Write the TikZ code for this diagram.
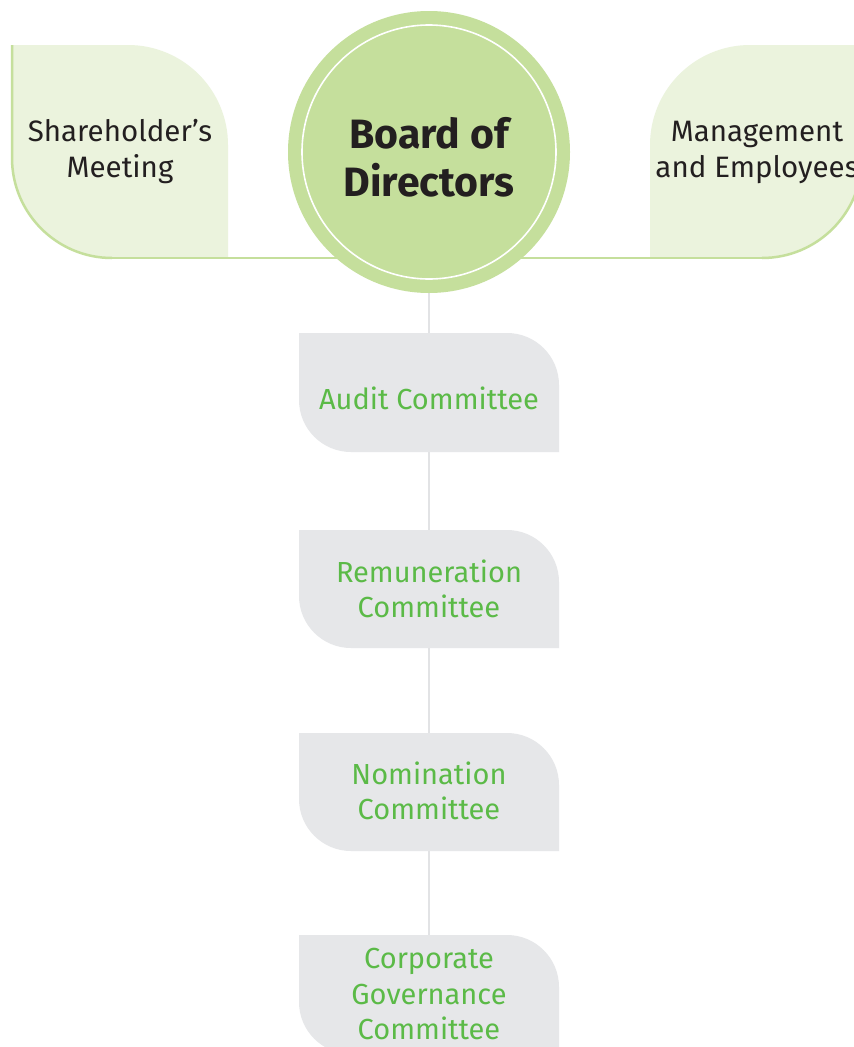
\documentclass[tikz,border=0pt]{standalone}
\usepackage{fontspec}
\setmainfont{Fira Sans}
\definecolor{leaf}{HTML}{EBF3DD}
\definecolor{leafline}{HTML}{C5DF9C}
\definecolor{disc}{HTML}{C5DF9C}
\definecolor{boxgray}{HTML}{E6E7E9}
\definecolor{stem}{HTML}{E2E3E5}
\definecolor{txtgreen}{HTML}{5BBA47}
\definecolor{txtdark}{HTML}{231F20}
\tikzset{
  lbl/.style={align=center, text=txtdark, font=\fontsize{29.5}{36}\selectfont},
  comlbl/.style={align=center, text=txtgreen, font=\fontsize{29}{35.5}\selectfont},
  boardlbl/.style={align=center, text=txtdark, font=\bfseries\fontsize{41}{48}\selectfont},
  greenedge/.style={draw=leafline, line width=2.5pt},
  stemline/.style={draw=stem, line width=2pt},
}
\newcommand{\comshape}[2]{%
  \fill[boxgray] (299,#1) -- (507,#1) .. controls (535.7,#1) and (559,#1+23.3) .. (559,#1+52)
    -- (559,#2) -- (351,#2) .. controls (322.3,#2) and (299,#2-23.3) .. (299,#2-52) -- cycle;}
\begin{document}
\begin{tikzpicture}[x=1pt,y=-1pt]
\clip (0,0) rectangle (854,1047);
\fill[white] (0,0) rectangle (854,1047);
% coordinates
\coordinate (bc) at (429,152);
\coordinate (lb) at (112,258);
\coordinate (rb) at (762,258);
\coordinate (stemend) at (429,960);
% stem
\draw[stemline] (bc) -- (stemend);
% left leaf
\fill[leaf] (12,45) -- (128,45) .. controls (183.2,45) and (228,89.8) .. (228,145) -- (228,258) -- (112,258) .. controls (56.8,258) and (12,213.2) .. (12,158) -- cycle;
\draw[greenedge] (12,45) -- (12,158) .. controls (12,213.2) and (56.8,258) .. (lb);
% right leaf
\fill[leaf] (650,258) -- (650,145) .. controls (650,89.8) and (694.8,45) .. (750,45) -- (862,45) -- (862,158) .. controls (862,213.2) and (817.2,258) .. (762,258) -- cycle;
\draw[greenedge] (862,45) -- (862,158) .. controls (862,213.2) and (817.2,258) .. (rb);
% horizontal base line
\draw[greenedge] (lb) -- (rb);
% committee shapes
\comshape{333}{452}
\comshape{530}{648}
\comshape{733}{851}
\comshape{935}{1054}
% board circle
\node[circle, fill=disc, minimum size=282pt, inner sep=0pt] (board) at (bc) {};
\draw[white, line width=1.6pt] (bc) circle[radius=127];
\node[boardlbl] (boardtxt) at (429,157) {Board of\\Directors};
% labels
\node[lbl] (share) at (120,152) {Shareholder’s\\Meeting};
\node[lbl] (mgmt) at (757,152) {Management\\and Employees};
\node[comlbl] (audit) at (429,398) {Audit Committee};
\node[comlbl] (remun) at (429,589) {Remuneration\\Committee};
\node[comlbl] (nomin) at (429,791) {Nomination\\Committee};
\node[comlbl] (corp) at (429,994) {Corporate\\Governance\\Committee};
\end{tikzpicture}
\end{document}
